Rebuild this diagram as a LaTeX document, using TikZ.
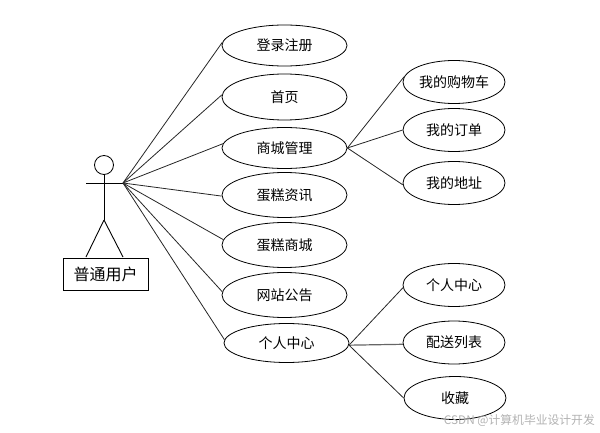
\documentclass[tikz,border=0pt]{standalone}
\usepackage{fontspec}
\setmainfont{Liberation Sans}
\newfontfamily\cjk{Noto Sans CJK SC}
\usetikzlibrary{shapes.geometric}
\tikzset{
  usecase/.style={draw,ellipse,minimum width=125pt,minimum height=#1,inner sep=0pt,line width=0.8pt,font=\cjk\fontsize{14}{16}\selectfont},
  usecase/.default=44pt,
  subcase/.style={draw,ellipse,minimum width=102pt,minimum height=43pt,inner sep=0pt,line width=0.8pt,font=\cjk\fontsize{14}{16}\selectfont},
  link/.style={line width=0.8pt,draw=black!85},
  body/.style={line width=0.9pt}
}
\begin{document}
\begin{tikzpicture}[x=1pt,y=-1pt]
\useasboundingbox (0,0) rectangle (600,433);
\node[usecase=41pt] (a1) at (284.5,45.5) {登录注册};
\node[usecase=46pt] (a2) at (284.5,97) {首页};
\node[usecase=41pt] (a3) at (284.5,148) {商城管理};
\node[usecase=45pt] (a4) at (284.5,195) {蛋糕资讯};
\node[usecase=45pt] (a5) at (284.5,245) {蛋糕商城};
\node[usecase=45pt] (a6) at (284.5,295) {网站公告};
\node[usecase=39pt] (a7) at (286.5,343) {个人中心};
\node[subcase] (b1) at (454,82) {我的购物车};
\node[subcase] (b2) at (454,130) {我的订单};
\node[subcase] (b3) at (454,183) {我的地址};
\node[subcase] (c1) at (454,285) {个人中心};
\node[subcase] (c2) at (454,342.5) {配送列表};
\node[subcase] (c3) at (455,398) {收藏};
\coordinate (hub) at (123,183);
\coordinate (armL) at (86,183);
\coordinate (hip) at (104,220);
\coordinate (footL) at (86,257);
\coordinate (footR) at (123,257);
\node[draw,circle,minimum size=19pt,inner sep=0pt,line width=0.8pt] (head) at (104,165) {};
\node[draw,minimum width=85pt,minimum height=32pt,inner sep=0pt,line width=0.9pt,font=\cjk\fontsize{16}{18}\selectfont] (actor) at (105.5,274) {普通用户};
\draw[body] (armL) -- (hub);
\draw[body] (head.south) -- (hip);
\draw[body] (hip) -- (footL);
\draw[body] (hip) -- (footR);
\draw[link] (hub) -- (a1.177);
\draw[link] (hub) -- (a2.178);
\draw[link] (hub) -- (a3.176);
\draw[link] (hub) -- (a4.181);
\draw[link] (hub) -- (a5.175);
\draw[link] (hub) -- (a6.177);
\draw[link] (hub) -- (a7.177);
\draw[link] (a3.east) -- (b1.174);
\draw[link] (a3.east) -- (b2.west);
\draw[link] (a3.east) -- (b3.182);
\draw[link] (a7.358.2) -- (c1.183);
\draw[link,line width=1.2pt,draw=black!60] (a7.358.2) -- (c2.182.75);
\draw[link] (a7.358.2) -- (c3.west);
\node[text=black!30,font=\cjk\fontsize{11.8}{13}\selectfont,anchor=east,inner sep=0pt] (wm) at (595,421) {CSDN @计算机毕业设计开发};
\end{tikzpicture}
\end{document}
